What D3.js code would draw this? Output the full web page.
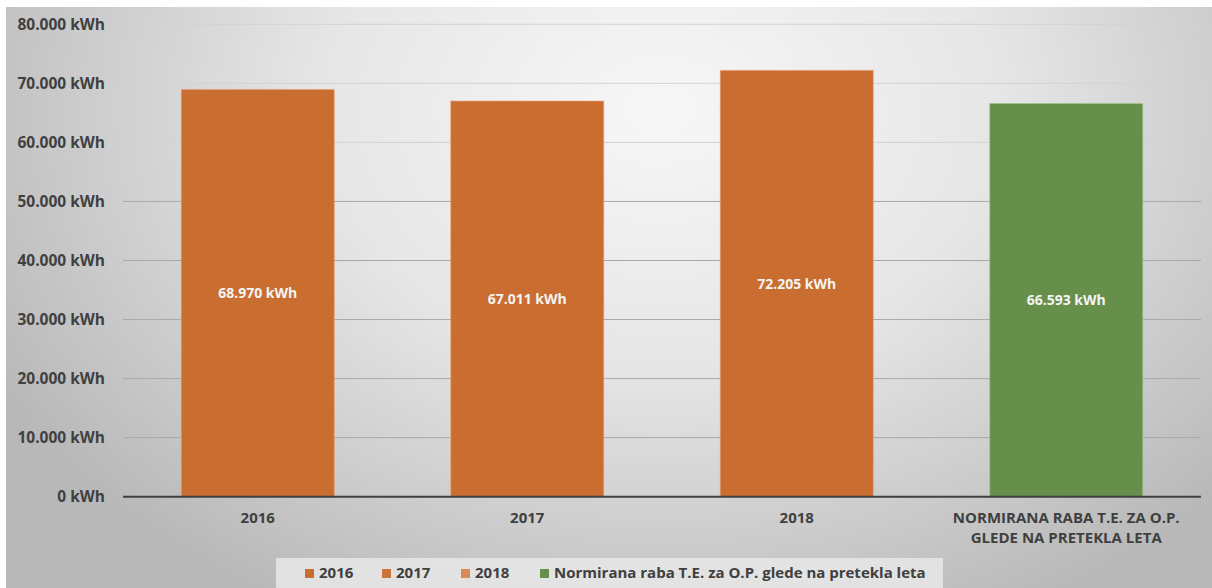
<!DOCTYPE html>
<html><head><meta charset="utf-8">
<script src="https://cdn.jsdelivr.net/npm/d3@7/dist/d3.min.js"></script>
<style>
html,body{margin:0;padding:0;background:#fff;}
svg{display:block;}
text{font-family:"Open Sans",sans-serif;font-weight:bold;}
</style></head><body>
<svg id="chart" width="1212" height="588"></svg>
<script>
const categories = ["2016", "2017", "2018", "NORMIRANA RABA T.E. ZA O.P.|GLEDE NA PRETEKLA LETA"];
const values = [68970, 67011, 72205, 66593];
const valueLabels = ["68.970 kWh", "67.011 kWh", "72.205 kWh", "66.593 kWh"];
const barColors = ["#C96E30", "#C96E30", "#C96E30", "#678F4C"];
const yTicks = [0, 10000, 20000, 30000, 40000, 50000, 60000, 70000, 80000];
const yTickLabels = ["0 kWh", "10.000 kWh", "20.000 kWh", "30.000 kWh", "40.000 kWh", "50.000 kWh", "60.000 kWh", "70.000 kWh", "80.000 kWh"];
const legendLabels = ["2016", "2017", "2018", "Normirana raba T.E. za O.P. glede na pretekla leta"];
const legendColors = ["#C96E30", "#CC7438", "#D88B55", "#678F4C"];

const svg = d3.select("#chart");
const W = 1212, H = 588;
const defs = svg.append("defs");
const grad = defs.append("radialGradient").attr("id","bg")
  .attr("gradientUnits","userSpaceOnUse").attr("cx",660).attr("cy",110).attr("r",760)
  .attr("gradientTransform","translate(660,110) scale(1,0.75) translate(-660,-110)");
grad.append("stop").attr("offset","0").attr("stop-color","#f7f7f7");
grad.append("stop").attr("offset","0.45").attr("stop-color","#e6e6e6");
grad.append("stop").attr("offset","1").attr("stop-color","#b8b8b8");
svg.append("rect").attr("x",6).attr("y",7).attr("width",W-6).attr("height",H-7).attr("fill","url(#bg)");

const x0 = 123, x1 = 1201;
const x = d3.scaleBand().domain(categories).range([x0, x1]).paddingInner(0.432).paddingOuter(0.216);
const y = d3.scaleLinear().domain([0, 80000]).range([496.7, 24.3]);

// gridlines
svg.append("g").selectAll("line").data(yTicks.filter(d=>d>0)).join("line")
  .attr("x1",x0).attr("x2",x1).attr("y1",d=>y(d)).attr("y2",d=>y(d))
  .attr("stroke",d=>d>=60000?"#d2d2d2":"#a8a8a8").attr("stroke-width",1);

// y axis labels
const yAxis = d3.axisLeft(y).tickValues(yTicks).tickFormat((d,i)=>yTickLabels[i]).tickSize(0).tickPadding(0);
const ga = svg.append("g").attr("transform",`translate(105,0)`).call(yAxis);
ga.select(".domain").remove();
ga.selectAll("text").attr("fill","#404040").attr("font-size",15.5).style("font-family","'Open Sans',sans-serif").style("font-weight","bold");

// bars
svg.append("g").selectAll("rect").data(values).join("rect")
  .attr("x",(d,i)=>x(categories[i])).attr("width",x.bandwidth())
  .attr("y",d=>y(d)).attr("height",d=>y(0)-y(d))
  .attr("fill",(d,i)=>barColors[i])
  .attr("stroke",(d,i)=>i<3?"#e9a77a":"#a8c690").attr("stroke-opacity",0.6).attr("stroke-width",1);

// value labels
svg.append("g").selectAll("text").data(values).join("text")
  .attr("x",(d,i)=>x(categories[i])+x.bandwidth()/2)
  .attr("y",d=>(y(d)+y(0))/2+5)
  .attr("text-anchor","middle").attr("font-size",14).attr("fill","#f4f4f4")
  .text((d,i)=>valueLabels[i]);

// x axis line
svg.append("line").attr("x1",x0).attr("x2",x1).attr("y1",y(0)).attr("y2",y(0))
  .attr("stroke","#404040").attr("stroke-width",2);

// x labels
const xl = svg.append("g");
categories.forEach((c,i)=>{
  const lines = c.split("|");
  const t = xl.append("text").attr("x",x(c)+x.bandwidth()/2).attr("y",523)
    .attr("text-anchor","middle").attr("font-size",15).attr("fill","#404040");
  lines.forEach((l,j)=>t.append("tspan").attr("x",x(c)+x.bandwidth()/2).attr("dy",j?20:0).text(l));
});

// legend
const lg = svg.append("g");
lg.append("rect").attr("x",276).attr("y",558).attr("width",667).attr("height",30).attr("fill","#e8e8e8").attr("opacity",0.85);
const legX = [305, 382, 461, 540];
legendLabels.forEach((l,i)=>{
  lg.append("rect").attr("x",legX[i]).attr("y",569).attr("width",9).attr("height",9).attr("fill",legendColors[i]);
  lg.append("text").attr("x",legX[i]+14).attr("y",578).attr("font-size",15).attr("fill","#404040").text(l);
});
</script>
</body></html>
